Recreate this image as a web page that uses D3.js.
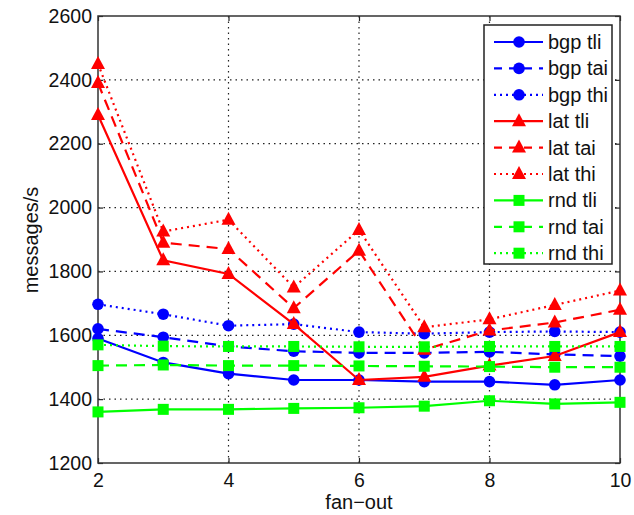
<!DOCTYPE html>
<html><head><meta charset="utf-8">
<script src="https://cdn.jsdelivr.net/npm/d3@7"></script>
<style>body{margin:0;background:#fff}svg{display:block}text{font-family:"Liberation Sans",Arial,sans-serif;fill:#111}</style>
</head><body>
<svg id="c" width="634" height="515"></svg>
<script>
const fanout = [2,3,4,5,6,7,8,9,10];
const xTicks = [2,4,6,8,10];
const yTicks = [1200,1400,1600,1800,2000,2200,2400,2600];
const bgpTli = [1590,1515,1480,1460,1460,1455,1455,1445,1460];
const bgpTai = [1620,1594,1565,1550,1545,1545,1548,1540,1535];
const bgpThi = [1697,1666,1630,1635,1610,1605,1610,1612,1610];
const latTli = [2290,1835,1792,1635,1460,1470,1505,1535,1610];
const latTai = [2390,1890,1870,1685,1865,1555,1615,1640,1680];
const latThi = [2450,1925,1962,1750,1930,1625,1650,1695,1740];
const rndTli = [1360,1368,1368,1371,1373,1378,1395,1385,1390];
const rndTai = [1505,1507,1505,1505,1504,1503,1502,1500,1500];
const rndThi = [1570,1566,1565,1565,1564,1564,1565,1565,1565];
const seriesNames = ["bgp tli","bgp tai","bgp thi","lat tli","lat tai","lat thi","rnd tli","rnd tai","rnd thi"];
const seriesValues = [bgpTli,bgpTai,bgpThi,latTli,latTai,latThi,rndTli,rndTai,rndThi];
const colors = ["#0000ff","#0000ff","#0000ff","#ff0000","#ff0000","#ff0000","#00ff00","#00ff00","#00ff00"];
const markers = ["circle","circle","circle","triangle","triangle","triangle","square","square","square"];
const dashes = [null,"11,7","2,4",null,"11,7","2,4",null,"11,7","2,4"];

const svg = d3.select("#c");
const L=98, R=620, T=16, B=463;
const x = d3.scaleLinear().domain([2,10]).range([L,R]);
const y = d3.scaleLinear().domain([1200,2600]).range([B,T]);

// grid
const g = svg.append("g");
g.selectAll(".gx").data(xTicks.slice(1,-1)).enter().append("line")
 .attr("x1",d=>x(d)).attr("x2",d=>x(d)).attr("y1",T).attr("y2",B)
 .attr("stroke","#222").attr("stroke-width",1.2).attr("stroke-dasharray","1.5,4");
g.selectAll(".gy").data(yTicks.slice(1,-1)).enter().append("line")
 .attr("y1",d=>y(d)).attr("y2",d=>y(d)).attr("x1",L).attr("x2",R)
 .attr("stroke","#222").attr("stroke-width",1.2).attr("stroke-dasharray","1.5,4");

// axes
const fs = "19.5px";
const fmt = d3.format("d");
const ax = svg.append("g").attr("transform",`translate(0,${B})`)
 .call(d3.axisBottom(x).tickValues(xTicks).tickFormat(fmt).tickSizeInner(-5).tickSizeOuter(0).tickPadding(10));
const ay = svg.append("g").attr("transform",`translate(${L},0)`)
 .call(d3.axisLeft(y).tickValues(yTicks).tickFormat(fmt).tickSizeInner(-5).tickSizeOuter(0).tickPadding(6));
const axT = svg.append("g").attr("transform",`translate(0,${T})`)
 .call(d3.axisTop(x).tickValues(xTicks).tickSizeInner(-5).tickSizeOuter(0).tickFormat(""));
const ayR = svg.append("g").attr("transform",`translate(${R},0)`)
 .call(d3.axisRight(y).tickValues(yTicks).tickSizeInner(-5).tickSizeOuter(0).tickFormat(""));
[ax,ay,axT,ayR].forEach(a=>{
  a.select(".domain").remove();
  a.selectAll("line").attr("stroke","#222").attr("stroke-width",1.2);
  a.selectAll("text").style("font-size",fs).style("font-family","'Liberation Sans',Arial,sans-serif").attr("fill","#111");
});
svg.append("rect").attr("x",L).attr("y",T).attr("width",R-L).attr("height",B-T)
 .attr("fill","none").attr("stroke","#333").attr("stroke-width",1.5);

// labels
svg.append("text").attr("x",(L+R)/2).attr("y",509).attr("text-anchor","middle").style("font-size","20px").text("fan\u2212out");
svg.append("text").attr("transform","translate(38,240) rotate(-90)").attr("text-anchor","middle").style("font-size","20px").text("messages/s");

// series
const line = d3.line().x((d,i)=>x(fanout[i])).y(d=>y(d));
function drawMarker(sel, type, cx, cy, color){
  if(type==="circle") sel.append("circle").attr("cx",cx).attr("cy",cy).attr("r",5.8).attr("fill",color);
  else if(type==="triangle") sel.append("path").attr("d",`M${cx},${cy-8}L${cx+7},${cy+5}L${cx-7},${cy+5}Z`).attr("fill",color);
  else sel.append("rect").attr("x",cx-5.5).attr("y",cy-5.5).attr("width",11).attr("height",11).attr("fill",color);
}
seriesValues.forEach((vals,k)=>{
  const gs = svg.append("g");
  gs.append("path").datum(vals).attr("d",line).attr("fill","none").attr("stroke",colors[k])
    .attr("stroke-width",2.2).attr("stroke-dasharray",dashes[k]);
  vals.forEach((v,i)=>drawMarker(gs,markers[k],x(fanout[i]),y(v),colors[k]));
});

// legend
const lg = svg.append("g");
const lx=484, ly=25, lw=128, lh=239;
lg.append("rect").attr("x",lx).attr("y",ly).attr("width",lw).attr("height",lh).attr("fill","#fff").attr("stroke","#222").attr("stroke-width",1.5);
seriesNames.forEach((n,k)=>{
  const yy = 42 + k*26.4;
  lg.append("line").attr("x1",494).attr("x2",543).attr("y1",yy).attr("y2",yy).attr("stroke",colors[k]).attr("stroke-width",2.2).attr("stroke-dasharray",dashes[k]?(k%3===1?"8,7":"2,4"):null);
  drawMarker(lg,markers[k],519,yy,colors[k]);
  lg.append("text").attr("x",548).attr("y",yy+7).style("font-size","20px").text(n);
});
</script>
</body></html>
